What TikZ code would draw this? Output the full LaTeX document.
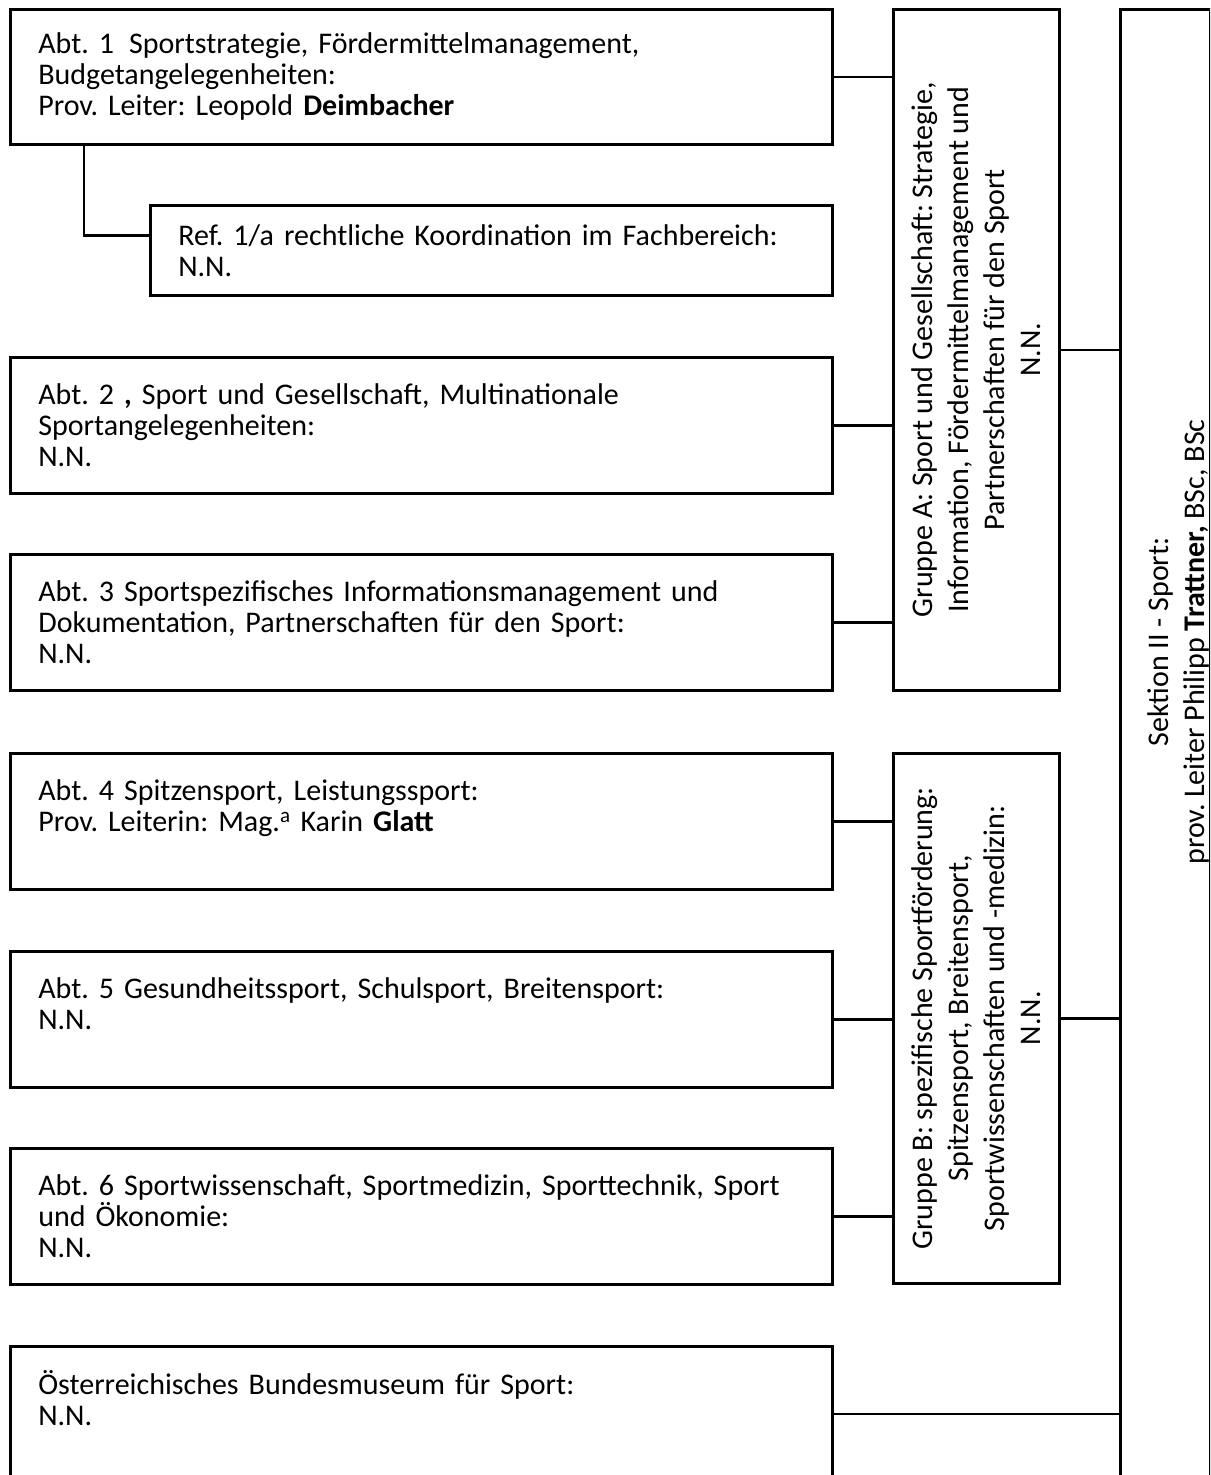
\documentclass[tikz,border=0pt]{standalone}
\usepackage{fontspec}
\setmainfont{Carlito}
\usetikzlibrary{shapes,arrows}
\newcommand\orgfont{\fontsize{30}{31}\selectfont\frenchspacing}
\newcommand\grpfont{\fontsize{30}{36}\selectfont\frenchspacing}
\tikzset{
  box/.style={draw, line width=2.6pt, inner sep=0pt},
  abt/.style={box, anchor=north west, minimum width=822, minimum height=135, text width=766, inner xsep=28, align=left, font=\orgfont},
  grp/.style={box, anchor=north west, minimum width=166},
  rot/.style={rotate=90, align=center, font=\grpfont},
  conn/.style={line width=2.6pt}
}

\begin{document}
\begin{tikzpicture}[x=1pt, y=-1pt]
\clip (0,0) rectangle (1210,1475);
\node[abt] (abt1) at (9,8) {Abt. 1\enspace Sportstrategie, Fördermittelmanagement,\\Budgetangelegenheiten:\\Prov. Leiter: Leopold \textbf{Deimbacher}};
\node[abt, minimum width=682, minimum height=90, text width=626] (ref1a) at (149,204) {Ref. 1/a rechtliche Koordination im Fachbereich:\\N.N.};
\node[abt, minimum height=136] (abt2) at (9,356) {Abt. 2 \textbf{,} Sport und Gesellschaft, Multinationale\\Sportangelegenheiten:\\N.N.};
\node[abt, minimum height=136] (abt3) at (9,553) {Abt. 3 Sportspezifisches Informationsmanagement und\\Dokumentation, Partnerschaften für den Sport:\\N.N.};
\node[abt, minimum height=136] (abt4) at (9,752) {Abt. 4 Spitzensport, Leistungssport:\\Prov. Leiterin: Mag.\textsuperscript{a} Karin \textbf{Glatt}\\\mbox{}};
\node[abt, minimum height=136] (abt5) at (9,950) {Abt. 5 Gesundheitssport, Schulsport, Breitensport:\\N.N.\\\mbox{}};
\node[abt, minimum height=136] (abt6) at (9,1147) {Abt. 6 Sportwissenschaft, Sportmedizin, Sporttechnik, Sport\\und Ökonomie:\\N.N.};
\node[abt] (museum) at (9,1345) {Österreichisches Bundesmuseum für Sport:\\N.N.\\\mbox{}};
\node[grp, minimum height=681] (grpA) at (892,8) {};
\node[grp, minimum height=530] (grpB) at (892,752) {};
\node[box, anchor=north west, minimum width=90, minimum height=1520] (sek) at (1119,8) {};
\node[rot] (grpAtext) at (grpA.center) {Gruppe A: Sport und Gesellschaft: Strategie,\\Information, Fördermittelmanagement und\\Partnerschaften für den Sport\\N.N.};
\node[rot] (grpBtext) at (grpB.center) {Gruppe B: spezifische Sportförderung:\\Spitzensport, Breitensport,\\Sportwissenschaften und -medizin:\\N.N.};
\node[rot] (sektext) at (1178,642) {Sektion II - Sport:\\prov. Leiter Philipp \textbf{Trattner,} BSc, BSc};
\draw[conn] ([xshift=75]abt1.south west) |- ([yshift=15]ref1a.west);
\draw[conn] (abt1.east) -- (abt1.east -| grpA.west);
\draw[conn] (abt2.east) -- (abt2.east -| grpA.west);
\draw[conn] (abt3.east) -- (abt3.east -| grpA.west);
\draw[conn] (abt4.east) -- (abt4.east -| grpB.west);
\draw[conn] (abt5.east) -- (abt5.east -| grpB.west);
\draw[conn] (abt6.east) -- (abt6.east -| grpB.west);
\draw[conn] (grpA.east) -- (grpA.east -| sek.west);
\draw[conn] (grpB.east) -- (grpB.east -| sek.west);
\draw[conn] (museum.east) -- (museum.east -| sek.west);
\end{tikzpicture}
\end{document}
